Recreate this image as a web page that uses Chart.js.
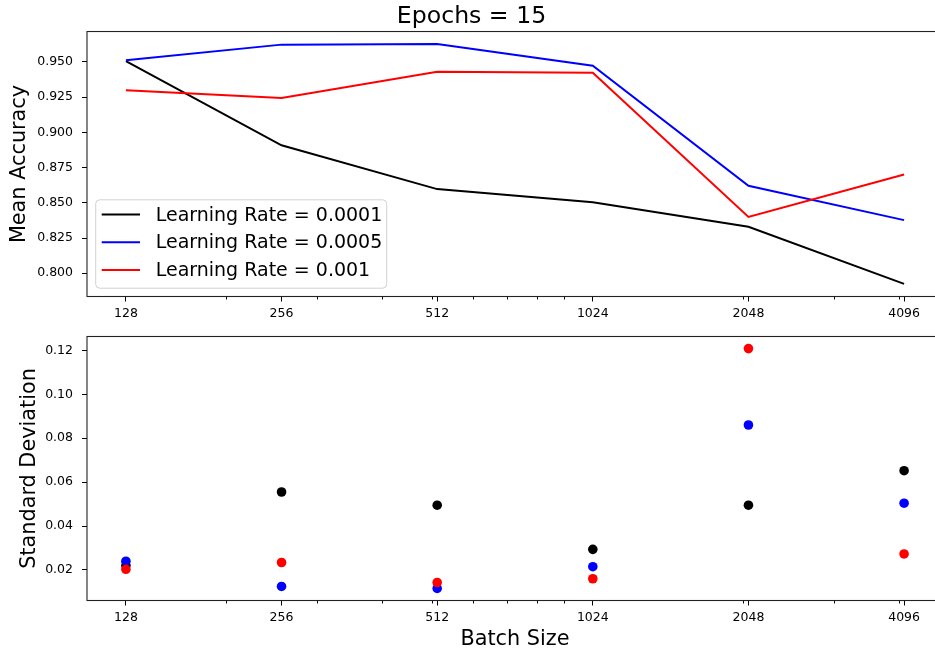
<!DOCTYPE html>
<html>
<head>
<meta charset="utf-8">
<script src="https://cdn.jsdelivr.net/npm/chart.js@4.4.0/dist/chart.umd.min.js"></script>
<style>
  html, body { margin: 0; padding: 0; overflow: hidden; background: #fff; width: 935px; height: 653px; }
  .box { position: absolute; left: 0; width: 1030px; }
  #topBox { top: 0; height: 325px; }
  #botBox { top: 320px; height: 333px; }
</style>
</head>
<body>
<div class="box" id="topBox"><canvas id="accChart"></canvas></div>
<div class="box" id="botBox"><canvas id="stdChart"></canvas></div>
<script>
// data
var batchSizes = [128, 256, 512, 1024, 2048, 4096];
var seriesLabels = ["Learning Rate = 0.0001", "Learning Rate = 0.0005", "Learning Rate = 0.001"];
var accLr0001 = [0.9505, 0.8908, 0.8597, 0.8503, 0.8330, 0.7925];
var accLr0005 = [0.9512, 0.9622, 0.9627, 0.9472, 0.8621, 0.8377];
var accLr001 = [0.9298, 0.9244, 0.9430, 0.9422, 0.8400, 0.8700];
var stdLr0001 = [0.0220, 0.0555, 0.0495, 0.0294, 0.0495, 0.0652];
var stdLr0005 = [0.0240, 0.0125, 0.0116, 0.0215, 0.0860, 0.0504];
var stdLr001 = [0.0203, 0.0234, 0.0143, 0.0160, 0.1208, 0.0273];
var accTicks = [0.800, 0.825, 0.850, 0.875, 0.900, 0.925, 0.950];
var stdTicks = [0.02, 0.04, 0.06, 0.08, 0.10, 0.12];
var minorTicks = [200, 300, 400, 500, 600, 700, 800, 900, 2000, 3000, 4000];

Chart.defaults.font.family = "'DejaVu Sans', sans-serif";
Chart.defaults.color = "#000";
Chart.defaults.animation = false;

function points(ys) {
  return batchSizes.map(function (b, i) { return { x: b, y: ys[i] }; });
}

// matplotlib style box + minor ticks on the log axis
var frame = {
  id: "frame",
  afterDatasetsDraw: function (chart) {
    var a = chart.chartArea, c = chart.ctx, xs = chart.scales.x;
    c.save();
    c.strokeStyle = "#000";
    c.lineWidth = 1;
    minorTicks.forEach(function (v) {
      var px = Math.round(xs.getPixelForValue(v)) + 0.5;
      c.beginPath();
      c.moveTo(px, a.bottom);
      c.lineTo(px, a.bottom + 3);
      c.stroke();
    });
    c.strokeStyle = "#222";
    c.lineWidth = 1.1;
    c.strokeRect(a.left, a.top, a.right - a.left, a.bottom - a.top);
    c.restore();
  }
};

// legend in the lower left corner of the axes
var cornerLegend = {
  id: "cornerLegend",
  afterDraw: function (chart) {
    var a = chart.chartArea, c = chart.ctx;
    var w = 291, h = 88.4;
    var x0 = a.left + 8.7, y0 = a.bottom - 8.3 - h;
    c.save();
    c.beginPath();
    c.roundRect(x0, y0, w, h, 4);
    c.fillStyle = "rgba(255,255,255,0.8)";
    c.fill();
    c.strokeStyle = "rgba(204,204,204,0.9)";
    c.lineWidth = 1;
    c.stroke();
    c.font = "19px 'DejaVu Sans'";
    c.textBaseline = "middle";
    c.fillStyle = "#000";
    chart.data.datasets.forEach(function (ds, i) {
      var y = y0 + 14.7 + i * 27.7;
      c.strokeStyle = ds.borderColor;
      c.lineWidth = 2;
      c.beginPath();
      c.moveTo(x0 + 6, y);
      c.lineTo(x0 + 44.3, y);
      c.stroke();
      c.fillText(ds.label, x0 + 60, y + 1.3);
    });
    c.restore();
  }
};

function xScale(height, titleText) {
  return {
    type: "logarithmic",
    min: batchSizes[0] / Math.pow(2, 0.25),
    max: batchSizes[batchSizes.length - 1] * Math.pow(2, 0.25),
    afterBuildTicks: function (s) {
      s.ticks = batchSizes.map(function (v) { return { value: v }; });
    },
    ticks: {
      autoSkip: false, maxRotation: 0, padding: 5,
      font: { size: 12.5 }, color: "#000",
      callback: function (v) { return String(v); }
    },
    grid: { drawOnChartArea: false, drawTicks: true, tickLength: 5, tickColor: "#000" },
    border: { display: false },
    title: {
      display: !!titleText, text: titleText || "",
      font: { size: 20.8 }, color: "#000", padding: { top: 0, bottom: 1 }
    },
    afterFit: function (s) { s.height = height; }
  };
}

function yScale(min, max, tickVals, digits, titleText, titlePad) {
  return {
    min: min, max: max,
    afterBuildTicks: function (s) {
      s.ticks = tickVals.map(function (v) { return { value: v }; });
    },
    ticks: {
      padding: 9, font: { size: 12.5 }, color: "#000",
      callback: function (v) { return Number(v).toFixed(digits); }
    },
    grid: { drawOnChartArea: false, drawTicks: true, tickLength: 5, tickColor: "#000" },
    border: { display: false },
    title: {
      display: true, text: titleText,
      font: { size: 20.8 }, color: "#000", padding: { top: titlePad, bottom: 0 }
    },
    afterFit: function (s) { s.width = 87; }
  };
}

var ctx = document.getElementById("accChart").getContext("2d");
var accChart = new Chart(ctx, {
  type: "line",
  data: {
    datasets: [
      { label: seriesLabels[0], data: points(accLr0001), borderColor: "#000000", backgroundColor: "#000000", order: 3 },
      { label: seriesLabels[1], data: points(accLr0005), borderColor: "#0000ff", backgroundColor: "#0000ff", order: 2 },
      { label: seriesLabels[2], data: points(accLr001), borderColor: "#ff0000", backgroundColor: "#ff0000", order: 1 }
    ]
  },
  options: {
    responsive: true,
    maintainAspectRatio: false,
    layout: { padding: { left: 0, right: 87, top: 0, bottom: 0 } },
    elements: {
      line: { borderWidth: 2, tension: 0, fill: false },
      point: { radius: 0, hoverRadius: 0 }
    },
    plugins: {
      legend: { display: false },
      tooltip: { enabled: false },
      title: {
        display: true, text: "Epochs = 15", color: "#000",
        font: { size: 23.6, weight: "normal" }, padding: { top: 3, bottom: 0.2 }
      }
    },
    scales: {
      x: xScale(28.5, ""),
      y: yScale(0.7835, 0.9715, accTicks, 3, "Mean Accuracy", 7.1)
    }
  },
  plugins: [frame, cornerLegend]
});

var ctx = document.getElementById("stdChart").getContext("2d");
var stdChart = new Chart(ctx, {
  type: "scatter",
  data: {
    datasets: [
      { label: seriesLabels[0], data: points(stdLr0001), backgroundColor: "#000000", order: 3 },
      { label: seriesLabels[1], data: points(stdLr0005), backgroundColor: "#0000ff", order: 2 },
      { label: seriesLabels[2], data: points(stdLr001), backgroundColor: "#ff0000", order: 1 }
    ]
  },
  options: {
    responsive: true,
    maintainAspectRatio: false,
    layout: { padding: { left: 0, right: 87, top: 16, bottom: 0 } },
    elements: {
      point: { radius: 4.8, hoverRadius: 4.8, borderWidth: 0 }
    },
    plugins: {
      legend: { display: false },
      tooltip: { enabled: false }
    },
    scales: {
      x: xScale(52.5, "Batch Size"),
      y: yScale(0.0061, 0.1263, stdTicks, 2, "Standard Deviation", 16.8)
    }
  },
  plugins: [frame]
});
</script>
</body>
</html>
